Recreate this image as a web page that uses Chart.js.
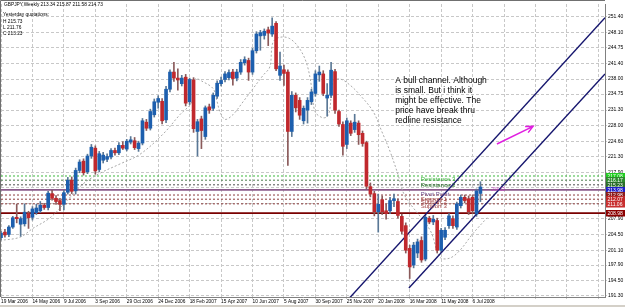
<!DOCTYPE html>
<html>
<head>
<meta charset="utf-8">
<title>GBPJPY Weekly</title>
<script src="https://cdn.jsdelivr.net/npm/chart.js@4.4.0/dist/chart.umd.min.js"></script>
<style>
  html, body { margin: 0; padding: 0; background: #fff; }
  #wrap { width: 625px; height: 307px; position: relative; }
  canvas { display: block; }
</style>
</head>
<body>
<div id="wrap"><canvas id="chart" width="625" height="307"></canvas></div>
<script>
// weekly candles, first one is the week of 19 Mar 2006
const opens = [203.8,205.0,204.5,206.1,208.2,206.7,206.8,209.0,208.2,209.2,209.6,210.8,210.3,213.3,212.3,211.8,211.0,213.6,216.2,213.9,
  218.3,220.3,218.0,221.4,223.1,218.5,220.5,220.7,221.2,222.6,222.1,223.7,222.9,224.4,224.7,223.0,224.2,228.7,227.4,230.3,
  233.0,233.2,229.2,235.8,239.5,238.2,237.0,238.4,233.1,237.8,226.7,229.4,225.6,232.0,231.7,234.3,237.0,237.9,238.3,239.5,
  238.2,239.5,241.5,242.0,239.5,244.1,247.3,247.4,248.6,247.7,250.0,238.8,240.0,239.5,226.7,234.5,233.4,229.0,231.3,233.1,
  234.9,238.9,239.1,233.9,234.5,239.6,231.0,228.2,223.9,228.5,227.1,228.5,226.3,224.3,214.8,213.3,209.4,212.0,209.6,209.6,
  211.8,211.6,208.4,206.4,201.5,197.9,200.5,203.2,199.2,208.0,207.2,207.5,201.1,203.9,206.4,207.9,206.1,210.7,212.5,212.2,
  212.5,208.9,213.34];
const highs = [205.2,205.6,206.4,208.4,211.0,208.3,211.1,209.5,210.5,211.0,211.6,211.2,213.8,214.0,212.9,212.3,214.0,216.8,216.9,218.8,
  220.6,220.8,221.8,223.9,223.6,222.4,222.2,221.9,223.0,223.1,224.3,224.5,225.0,225.6,225.4,224.6,229.5,229.3,231.5,233.7,
  234.4,233.8,236.4,240.0,241.6,240.2,238.8,239.0,238.2,238.3,229.3,230.0,232.2,232.6,235.0,237.6,238.4,239.6,240.0,240.1,
  240.1,242.2,242.8,242.5,244.6,248.2,248.5,248.8,249.2,251.2,250.4,243.8,241.0,240.0,235.3,235.0,234.0,232.2,234.0,235.8,
  239.8,240.8,239.8,237.0,241.6,240.1,231.3,228.8,229.6,229.0,230.4,229.0,226.8,224.6,215.6,213.8,213.2,212.8,211.0,212.5,
  213.2,212.2,208.9,207.0,202.2,202.8,203.5,204.0,208.6,208.4,208.6,208.0,205.8,206.0,209.0,208.5,211.5,213.0,213.0,212.8,
  213.0,214.3,215.87];
const lows = [203.3,203.9,204.0,205.8,207.0,204.1,206.3,205.8,207.6,208.8,209.2,209.9,209.8,211.9,211.0,209.6,209.8,213.2,213.3,213.2,
  217.8,217.3,217.6,220.9,217.5,218.0,219.9,220.2,220.8,221.6,221.7,222.8,222.5,224.0,222.8,222.4,223.8,226.9,227.0,229.8,
  231.7,228.3,228.6,235.2,237.5,235.6,236.5,232.2,232.5,226.5,221.4,223.0,225.0,230.6,231.2,233.8,236.5,237.4,237.8,236.7,
  237.6,239.0,241.0,237.7,239.0,243.6,244.2,246.6,245.2,247.2,239.8,237.7,236.6,219.4,225.6,230.9,229.3,228.3,228.5,232.5,
  234.3,237.5,234.4,230.0,234.0,230.6,227.8,221.6,223.0,225.8,226.5,223.9,223.5,214.3,212.6,208.5,205.0,208.8,207.8,209.0,
  210.5,208.0,204.6,200.5,195.0,197.3,199.5,198.5,198.8,206.8,206.6,200.5,200.6,203.4,205.8,205.8,205.6,210.2,211.3,208.8,
  209.0,208.4,211.58];
const closes = [204.8,204.4,206.1,208.1,207.9,207.9,209.3,208.1,210.0,210.2,210.8,210.3,213.4,212.3,211.6,211.0,213.5,216.2,213.8,218.3,
  220.1,217.8,221.4,223.3,218.2,221.9,221.6,221.3,222.6,222.1,223.7,223.1,224.6,224.9,223.2,224.2,229.0,227.4,231.0,233.1,
  233.8,229.0,235.8,239.5,238.2,237.8,238.2,232.8,237.9,227.3,228.8,226.9,231.8,231.3,234.5,237.1,237.7,239.1,239.4,238.1,
  239.5,241.6,242.2,239.5,244.1,247.7,248.0,248.3,247.9,249.4,240.2,240.8,239.2,226.7,234.5,231.8,230.2,231.7,233.4,235.2,
  239.1,239.5,234.9,234.5,239.9,231.3,228.3,223.5,229.0,226.3,228.7,226.0,224.1,214.9,213.2,209.4,211.0,209.4,209.0,211.8,
  212.2,208.6,205.2,201.1,197.5,202.2,202.9,199.0,208.2,207.2,207.8,201.1,205.4,205.4,208.5,206.4,211.1,212.5,211.8,209.4,
  209.6,213.9,214.73];

// time axis: grid every 8 weeks, labels only where there is history
const gridWeeks = [0,8,16,24,32,40,48,56,64,72,80,88,96,104,112,120,128,136,144,152];
const dateLabels = ['19 Mar 2006','14 May 2006','9 Jul 2006','3 Sep 2006','29 Oct 2006','24 Dec 2006','18 Feb 2007',
  '15 Apr 2007','10 Jun 2007','5 Aug 2007','30 Sep 2007','25 Nov 2007','20 Jan 2008','16 Mar 2008','11 May 2008','6 Jul 2008'];

// price axis
const priceTicks = [191.30,194.50,197.90,201.10,204.50,207.90,211.20,214.55,217.90,221.30,224.60,228.00,231.30,234.75,238.00,241.40,244.75,248.10,251.40];

// dotted indicator curve (week, price)
const trailWeeks = [-0.3,4.8,8.1,12.5,16.8,20.9,25.2,30.3,35.4,41.2,45.5,48.6,49.4,51.4,54,55,55.7,57,59,61.6,64.1,66.7,68.4,69.2,71,73.5,
  76.1,77.9,79.1,79.9,81.7,83,83.7,84.5,86.3,88.8,91.3,94.7,96.9,99,101,102.8,109.2,111.7,114.2,116.8,120.1,123.7];
const trailValues = [203.2,203.9,205.8,208.1,211.8,215.4,217.7,219.7,221.8,226.1,230.3,233.1,238.0,237.4,235.9,233.1,231.0,229.3,230.3,233.1,
  235.9,238.8,240.6,245.9,247.0,246.7,244.4,241.0,235.9,231.0,229.7,229.9,231.6,237.4,238.0,236.7,234.6,231.0,226.7,222.4,217.5,212.8,
  205.4,199.6,199.4,201.1,204.7,208.1];

// pivot levels
const levelValues = [217.10, 216.20, 215.20, 214.10, 213.00, 212.10, 211.10, 209.10];
const levelTags = ['217.08', '216.17', '215.23', '213.98', '212.98', '212.07', '211.06', '208.98'];
const levelColors = ['#3cb83c', '#4a7a4a', '#505050', '#8a5a8a', '#8c3c3c', '#8c3c3c', '#8c3c3c', '#7a0000'];
const levelTagColors = ['#22cc22', '#2e8b2e', '#2a6e2a', '#2020c8', '#8a1c1c', '#c02828', '#c83030', '#8b0000'];
const levelNames = [['Resistance 3', 217.10], ['Resistance 2', 215.75], ['Pivot Point', 213.80], ['Support 1', 212.80], ['Support 2', 212.00], ['Support 3', 211.10]];
const levelNameColors = ['#3cb83c', '#2e7d2e', '#6a4a8a', '#a04040', '#a04040', '#a04040'];

// channel drawn on the chart (week, price)
const channelUpper = [[88.3, 190.45], [153.7, 251.2]];
const channelLower = [[103.8, 192.95], [153.7, 239.1]];
const arrowFrom = [126.2, 224.0];
const arrowTo = [135.4, 227.8];

const noteLines = ['A bull channel. Although', 'is small. But i think it', 'might be effective. The', 'price have break thru', 'redline resistance'];

const X_MAX = 153.7;
const BULL = '#1d5fae';
const BEAR = '#c0282d';

const wickData = highs.map((h, i) => ({ x: i, y: [lows[i], h] }));
const bodyData = opens.map((o, i) => ({ x: i, y: [o, closes[i]] }));

const datasets = [
  {
    type: 'bar', label: 'body', data: bodyData, grouped: false, order: 0,
    barThickness: 3, minBarLength: 1,
    backgroundColor: ctx => closes[ctx.dataIndex] >= opens[ctx.dataIndex] ? BULL : BEAR
  },
  {
    type: 'bar', label: 'wick', data: wickData, grouped: false, order: 1,
    barThickness: 1,
    backgroundColor: ctx => closes[ctx.dataIndex] >= opens[ctx.dataIndex] ? '#5a7896' : '#8a5a5a'
  },
  {
    type: 'line', label: 'trail', order: 3,
    data: trailWeeks.map((w, i) => ({ x: w, y: trailValues[i] })),
    borderColor: '#a9a9a9', borderWidth: 1, borderDash: [2, 2], pointRadius: 0, tension: 0.35
  },
  {
    type: 'line', label: 'upper', order: 0,
    data: channelUpper.map(p => ({ x: p[0], y: p[1] })),
    borderColor: '#16166e', borderWidth: 1.4, pointRadius: 0
  },
  {
    type: 'line', label: 'lower', order: 0,
    data: channelLower.map(p => ({ x: p[0], y: p[1] })),
    borderColor: '#16166e', borderWidth: 1.4, pointRadius: 0
  }
];

levelValues.forEach((v, k) => {
  const solid = k === 3 || k === 7;
  datasets.push({
    type: 'line', label: 'level' + k, order: 4,
    data: [{ x: 0, y: v }, { x: X_MAX, y: v }],
    borderColor: levelColors[k], borderWidth: solid ? 1.6 : 1,
    borderDash: solid ? [] : [2, 2], pointRadius: 0
  });
});

const overlay = {
  id: 'overlay',
  afterDatasetsDraw(chart) {
    const { ctx, scales: { x, y } } = chart;
    ctx.save();

    // pivot level names
    ctx.font = '6px "Liberation Sans"';
    ctx.textBaseline = 'top';
    levelNames.forEach((n, k) => {
      ctx.fillStyle = levelNameColors[k];
      ctx.fillText(n[0], x.getPixelForValue(106.8), y.getPixelForValue(n[1]));
    });

    // little price tag after the last candle
    ctx.fillStyle = '#c040c0';
    ctx.font = '4.5px "Liberation Sans"';
    ctx.textBaseline = 'middle';
    ctx.fillText('\u2190 214.12', x.getPixelForValue(123.3), y.getPixelForValue(214.1));

    // note
    ctx.fillStyle = '#000';
    ctx.font = '8.5px "Liberation Sans"';
    ctx.textBaseline = 'top';
    noteLines.forEach((t, k) => {
      ctx.fillText(t, x.getPixelForValue(100.3), y.getPixelForValue(238.6) + k * 10);
    });

    // magenta arrow
    const x1 = x.getPixelForValue(arrowFrom[0]), y1 = y.getPixelForValue(arrowFrom[1]);
    const x2 = x.getPixelForValue(arrowTo[0]), y2 = y.getPixelForValue(arrowTo[1]);
    ctx.strokeStyle = '#e01ee0';
    ctx.lineWidth = 1.5;
    ctx.beginPath();
    ctx.moveTo(x1, y1);
    ctx.lineTo(x2, y2);
    const a = Math.atan2(y2 - y1, x2 - x1);
    ctx.moveTo(x2 - 8 * Math.cos(a - 0.45), y2 - 8 * Math.sin(a - 0.45));
    ctx.lineTo(x2, y2);
    ctx.lineTo(x2 - 8 * Math.cos(a + 0.45), y2 - 8 * Math.sin(a + 0.45));
    ctx.stroke();
    ctx.restore();
  },
  afterDraw(chart) {
    const { ctx, chartArea: area, scales: { y } } = chart;
    ctx.save();

    // frame
    ctx.strokeStyle = '#707070';
    ctx.lineWidth = 1;
    ctx.beginPath();
    ctx.moveTo(0.5, area.bottom);
    ctx.lineTo(0.5, 0.5);
    ctx.lineTo(area.right, 0.5);
    ctx.stroke();
    ctx.fillStyle = '#d4d0c8';
    ctx.fillRect(0, 305, 625, 2);

    // coloured price tags on the axis
    ctx.font = '5px "Liberation Sans"';
    ctx.textBaseline = 'middle';
    levelValues.forEach((v, k) => {
      const py = Math.round(y.getPixelForValue(v));
      ctx.fillStyle = levelTagColors[k];
      ctx.fillRect(area.right + 1, py - 3, 19, 6.5);
      ctx.fillStyle = '#fff';
      ctx.fillText(levelTags[k], area.right + 2.5, py + 0.3);
    });

    // header
    ctx.fillStyle = '#000';
    ctx.font = '4.8px "Liberation Sans"';
    ctx.textBaseline = 'middle';
    ctx.fillText('GBPJPY,Weekly 213.34 215.87 211.58 214.73', 4, 5);
    ['Yesterday quotations:', 'H 215.73', 'L 211.76', 'C 213.23'].forEach((t, k) => {
      ctx.fillText(t, 3, 15 + k * 6.3);
    });
    ctx.restore();
  }
};

new Chart(document.getElementById('chart'), {
  type: 'bar',
  data: { datasets },
  plugins: [overlay],
  options: {
    responsive: false,
    animation: false,
    devicePixelRatio: 1,
    layout: { padding: { left: 1, top: 1, right: 0, bottom: 0 } },
    plugins: { legend: { display: false }, tooltip: { enabled: false } },
    scales: {
      x: {
        type: 'linear', min: 0, max: X_MAX, offset: false,
        afterBuildTicks: s => { s.ticks = gridWeeks.map(v => ({ value: v })); },
        afterFit: s => { s.height = 10; },
        ticks: {
          autoSkip: false, maxRotation: 0, align: 'start', padding: 0,
          color: '#000', font: { family: 'Liberation Sans', size: 4.8 },
          callback: (v) => { const k = gridWeeks.indexOf(v); return k < dateLabels.length ? dateLabels[k] : ''; }
        },
        grid: { color: '#c8c8c8', tickLength: 2, drawTicks: true, offset: false },
        border: { display: true, color: '#808080', dash: [3, 2] }
      },
      y: {
        position: 'right', min: 191.02, max: 254.17,
        afterBuildTicks: s => { s.ticks = priceTicks.map(v => ({ value: v })); },
        afterFit: s => { s.width = 20; },
        ticks: {
          padding: 1, color: '#000', font: { family: 'Liberation Sans', size: 5 },
          callback: v => v.toFixed(2)
        },
        grid: { color: '#c8c8c8', tickLength: 2 },
        border: { display: true, color: '#808080', dash: [3, 2] }
      }
    }
  }
});
</script>
</body>
</html>
